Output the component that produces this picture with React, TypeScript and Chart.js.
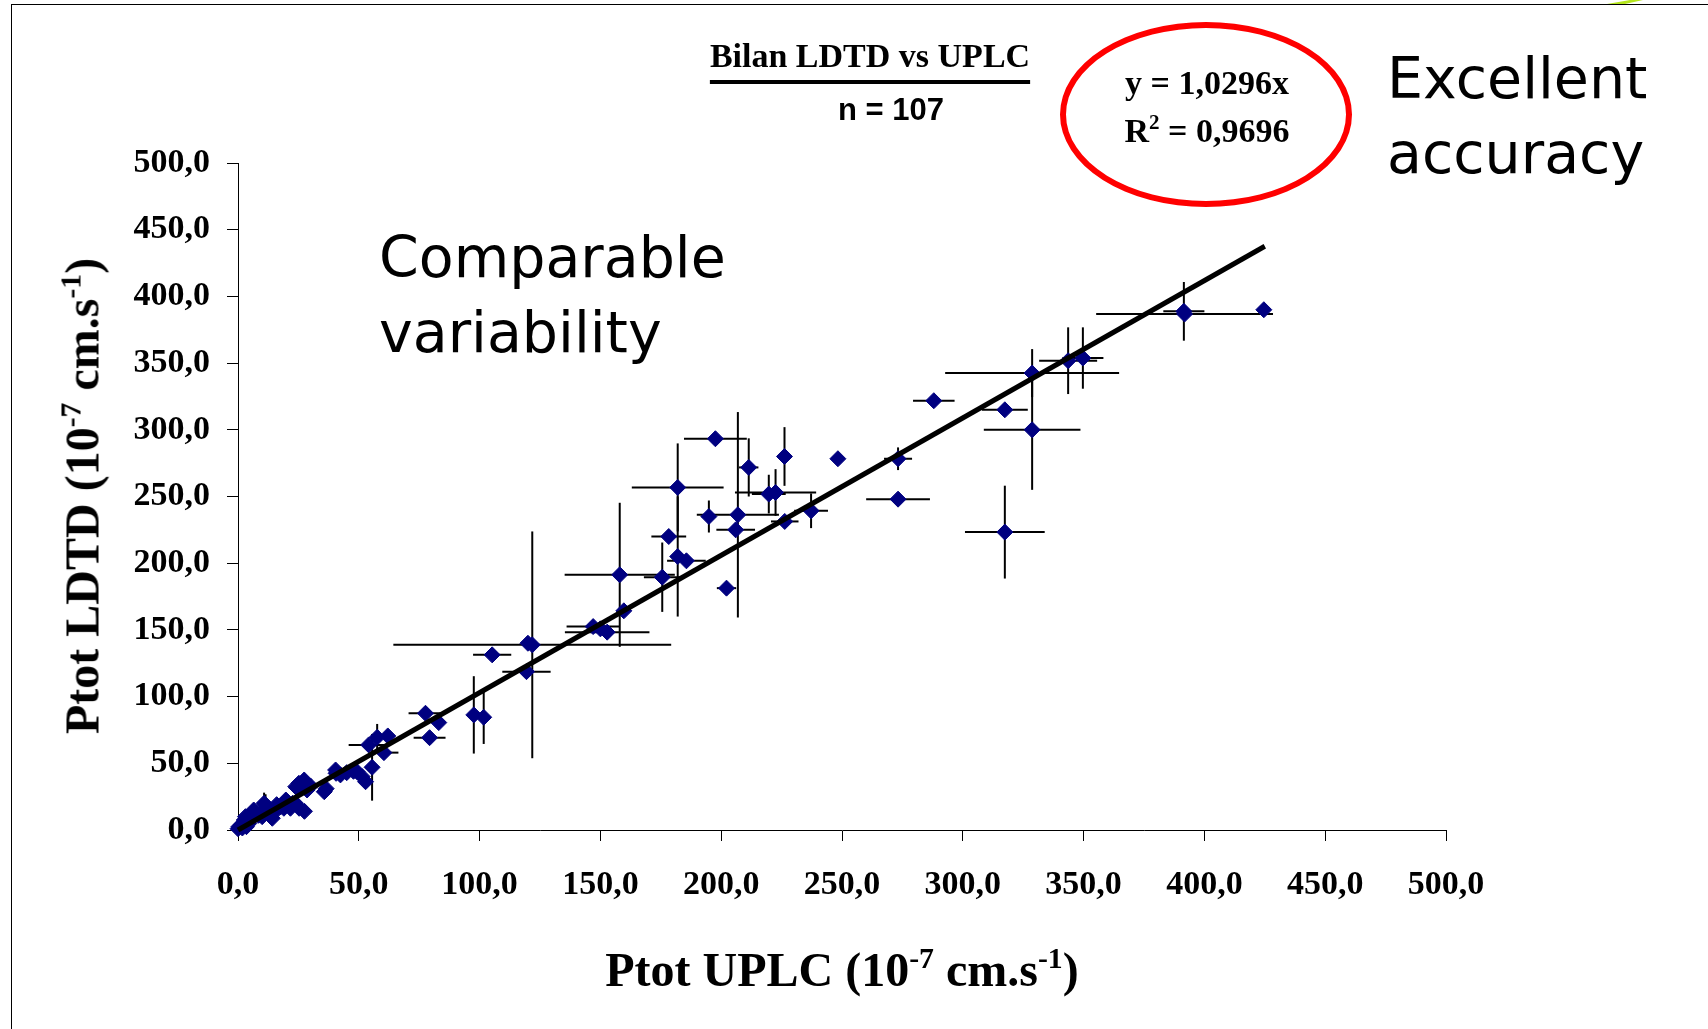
import React, { useEffect, useRef } from "react";
import { Chart, registerables } from "chart.js";

Chart.register(...registerables);

// ---- Data ----
const uplcX = [
  0.0, 0.4, 1.2, 1.8, 2.6, 3.1, 3.5, 4.5, 5.0, 6.5, 7.5, 8.5, 10.0, 10.0, 10.8, 11.4, 12.5, 13.6, 14.2, 15.5,
  16.0, 17.7, 19.0, 19.8, 20.4, 21.7, 22.6, 23.8, 23.9, 24.5, 25.2, 25.3, 26.8, 27.5, 27.4, 28.6, 30.0, 35.7, 36.5, 40.4,
  40.6, 42.4, 45.0, 47.8, 49.3, 51.4, 52.8, 54.1, 55.5, 57.6, 60.4, 62.0, 77.6, 79.3, 83.1, 97.6, 101.7, 105.2, 119.4, 120.0,
  121.8, 147.0, 150.0, 152.8, 158.0, 159.7, 175.6, 178.3, 182.0, 182.0, 185.6, 194.9, 197.6, 202.2, 206.0, 206.9, 211.4, 219.7, 222.5, 226.2,
  226.3, 237.2, 248.3, 273.2, 273.2, 288.0, 317.4, 317.4, 328.7, 328.7, 343.6, 349.7, 391.5, 391.8, 424.6,
];
const ldtdY = [
  1.0, 2.5, 3.7, 1.5, 7.5, 10.0, 2.5, 5.0, 8.0, 15.0, 13.0, 11.0, 10.0, 13.7, 20.0, 18.8, 15.0, 12.5, 8.8, 14.0,
  19.0, 17.5, 16.3, 22.5, 21.2, 16.3, 20.0, 20.0, 32.5, 31.3, 35.0, 16.3, 35.5, 14.0, 37.5, 30.0, 33.0, 28.7, 31.0, 45.0,
  42.5, 41.3, 43.0, 44.0, 43.7, 40.0, 36.2, 63.8, 47.0, 69.5, 58.0, 70.5, 87.5, 69.2, 80.5, 86.3, 84.5, 131.3, 118.7, 140.0,
  138.8, 152.5, 150.8, 148.3, 191.3, 164.3, 189.5, 220.0, 256.8, 205.0, 201.8, 235.0, 293.3, 181.3, 225.0, 236.3, 271.8, 251.8, 253.0, 280.0,
  231.3, 239.3, 278.3, 278.3, 248.0, 321.8, 315.0, 223.3, 342.5, 300.0, 351.8, 353.8, 388.8, 386.8, 390.0,
];
const uplcErr = [
  0, 0, 0, 0, 0, 0, 0, 0, 0, 0, 0, 0, 0, 0, 0, 0, 0, 0, 0, 0,
  0, 0, 0, 0, 0, 0, 0, 0, 0, 0, 0, 0, 0, 0, 0, 0, 0, 0, 0, 0,
  0, 0, 0, 0, 0, 0, 0, 8.3, 0, 0, 6, 0, 7, 6.6, 0, 0, 0, 7.9, 10, 0,
  57.5, 11, 0, 17.5, 22.8, 0, 7.6, 7.2, 19, 0, 8, 3, 13, 4, 8, 17, 4, 7, 16.8, 0,
  5.7, 7, 0, 5.8, 13.2, 8.6, 9.5, 16.5, 36, 20, 12, 8.5, 8.5, 36.6, 0,
];
const ldtdErr = [
  0, 0, 0, 0, 0, 0, 0, 0, 0, 0, 0, 0, 0, 0, 8, 8, 0, 0, 0, 0,
  0, 0, 0, 0, 0, 0, 0, 0, 0, 0, 0, 0, 0, 0, 0, 0, 0, 0, 0, 0,
  0, 0, 0, 0, 0, 0, 0, 0, 25, 10, 0, 0, 0, 0, 0, 29, 20, 0, 0, 0,
  85, 0, 5, 0, 54, 0, 26, 0, 33, 45, 0, 12, 0, 5, 0, 77, 21.8, 14.5, 17.5, 22,
  0, 13, 0, 8.5, 0, 0, 0, 34.8, 18, 45, 25, 23, 22, 0, 5,
];
// Linear trend line (y = 1,0296x), end points
const trendX = [0, 425];
const trendY = [0, 437.6];
const axisMin = 0;
const axisMax = 500;
const axisStep = 50;

const SERIF = "'Liberation Serif', 'Times New Roman', serif";
const SANS = "'Liberation Sans', Arial, sans-serif";
const DEJAVU = "'DejaVu Sans', Verdana, sans-serif";

const fmt = (v: number) => Number(v).toFixed(1).replace(".", ",");

const errorBarPlugin = {
  id: "errorBars",
  beforeDatasetsDraw(chart: any) {
    const { ctx } = chart;
    const xs = chart.scales.x;
    const ys = chart.scales.y;
    ctx.save();
    ctx.strokeStyle = "#000";
    ctx.lineWidth = 2;
    ctx.lineCap = "butt";
    for (let i = 0; i < uplcX.length; i++) {
      const xv = uplcX[i];
      const yv = ldtdY[i];
      const ex = uplcErr[i];
      const ey = ldtdErr[i];
      const px = xs.getPixelForValue(xv);
      const py = ys.getPixelForValue(yv);
      if (ex > 0) {
        ctx.beginPath();
        ctx.moveTo(xs.getPixelForValue(xv - ex), py);
        ctx.lineTo(xs.getPixelForValue(xv + ex), py);
        ctx.stroke();
      }
      if (ey > 0) {
        ctx.beginPath();
        ctx.moveTo(px, ys.getPixelForValue(yv - ey));
        ctx.lineTo(px, ys.getPixelForValue(yv + ey));
        ctx.stroke();
      }
    }
    ctx.restore();
  },
};

export default function App() {
  const ref = useRef<HTMLCanvasElement>(null);

  useEffect(() => {
    document.body.style.margin = "0";
    const canvas = ref.current;
    if (!canvas) return;
    const points = uplcX.map((x, i) => ({ x, y: ldtdY[i] }));
    const trend = trendX.map((x, i) => ({ x, y: trendY[i] }));
    const tickFont = { family: SERIF, size: 34, weight: "bold" as const };
    const chart = new Chart(canvas, {
      type: "scatter",
      data: {
        datasets: [
          {
            label: "Trend",
            data: trend,
            showLine: true,
            borderColor: "#000",
            borderWidth: 5,
            pointRadius: 0,
            order: 0,
            clip: false as any,
          } as any,
          {
            label: "Ptot",
            data: points,
            pointStyle: "rectRot",
            pointRadius: 8,
            backgroundColor: "#000080",
            borderColor: "#000080",
            borderWidth: 1,
            order: 1,
            clip: false as any,
          } as any,
        ],
      },
      options: {
        responsive: false,
        devicePixelRatio: 1,
        animation: false,
        events: [],
        layout: { padding: { left: 0, top: 163, right: 262, bottom: 0 } },
        plugins: {
          legend: { display: false },
          tooltip: { enabled: false },
          title: { display: false },
        },
        scales: {
          x: {
            type: "linear",
            min: axisMin,
            max: axisMax,
            ticks: {
              stepSize: axisStep,
              callback: (v: any) => fmt(v),
              font: tickFont,
              color: "#000",
              padding: 24,
              maxRotation: 0,
              autoSkip: false,
            },
            grid: { drawOnChartArea: false, drawTicks: true, tickLength: 11, color: "#000", tickWidth: 1 },
            border: { display: true, color: "#000", width: 1 },
            afterFit: (s: any) => {
              s.height = 199;
            },
          },
          y: {
            type: "linear",
            min: axisMin,
            max: axisMax,
            ticks: {
              stepSize: axisStep,
              callback: (v: any) => fmt(v),
              font: tickFont,
              color: "#000",
              padding: 17,
              autoSkip: false,
            },
            grid: { drawOnChartArea: false, drawTicks: true, tickLength: 11, color: "#000", tickWidth: 1 },
            border: { display: true, color: "#000", width: 1 },
            afterFit: (s: any) => {
              s.width = 238;
            },
          },
        },
      } as any,
      plugins: [errorBarPlugin],
    });
    return () => chart.destroy();
  }, []);

  const supStyle: React.CSSProperties = { fontSize: "0.62em", verticalAlign: "0.6em", lineHeight: 0 };

  return (
    <div
      style={{
        position: "fixed",
        left: 0,
        top: 0,
        width: 1708,
        height: 1029,
        background: "#fff",
        overflow: "hidden",
      }}
    >
      <canvas
        ref={ref}
        width={1708}
        height={1029}
        style={{ position: "absolute", left: 0, top: 0, width: 1708, height: 1029 }}
      />
      {/* slide frame */}
      <div style={{ position: "absolute", left: 11, top: 4, width: 1708, height: 1, background: "#000" }} />
      <div style={{ position: "absolute", left: 11, top: 4, width: 1, height: 1029, background: "#000" }} />
      <svg style={{ position: "absolute", left: 1600, top: 0 }} width={60} height={8}>
        <polygon points="7,4 25,4 43,0 30,0" fill="#b5e61d" />
      </svg>

      {/* Title */}
      <div
        style={{
          position: "absolute",
          left: 870,
          top: 56,
          transform: "translate(-50%, -50%)",
          fontFamily: SERIF,
          fontWeight: "bold",
          fontSize: 34,
          whiteSpace: "nowrap",
          textDecoration: "underline",
          textDecorationThickness: "4px",
          textUnderlineOffset: "13px",
          color: "#000",
        }}
      >
        Bilan LDTD vs UPLC
      </div>
      <div
        style={{
          position: "absolute",
          left: 891,
          top: 110,
          transform: "translate(-50%, -50%)",
          fontFamily: SANS,
          fontWeight: "bold",
          fontSize: 31,
          whiteSpace: "nowrap",
          color: "#000",
        }}
      >
        n = 107
      </div>

      {/* Red ellipse with equation */}
      <div
        style={{
          position: "absolute",
          left: 1060,
          top: 22,
          width: 292,
          height: 185,
          boxSizing: "border-box",
          border: "6px solid #ff0000",
          borderRadius: "50%",
        }}
      />
      <div
        style={{
          position: "absolute",
          left: 1207,
          top: 83,
          transform: "translate(-50%, -50%)",
          fontFamily: SERIF,
          fontWeight: "bold",
          fontSize: 34,
          whiteSpace: "nowrap",
          color: "#000",
        }}
      >
        y = 1,0296x
      </div>
      <div
        style={{
          position: "absolute",
          left: 1207,
          top: 131,
          transform: "translate(-50%, -50%)",
          fontFamily: SERIF,
          fontWeight: "bold",
          fontSize: 34,
          whiteSpace: "nowrap",
          color: "#000",
        }}
      >
        R<span style={supStyle}>2</span> = 0,9696
      </div>

      {/* Annotations */}
      <div
        style={{
          position: "absolute",
          left: 1387,
          top: 41,
          fontFamily: DEJAVU,
          fontSize: 57,
          lineHeight: "75px",
          color: "#000",
          whiteSpace: "nowrap",
        }}
      >
        Excellent
        <br />
        accuracy
      </div>
      <div
        style={{
          position: "absolute",
          left: 379,
          top: 220,
          fontFamily: DEJAVU,
          fontSize: 57,
          lineHeight: "75px",
          color: "#000",
          whiteSpace: "nowrap",
        }}
      >
        Comparable
        <br />
        variability
      </div>

      {/* Axis titles */}
      <div
        style={{
          position: "absolute",
          left: 82,
          top: 496,
          transform: "translate(-50%, -50%) rotate(-90deg)",
          fontFamily: SERIF,
          fontWeight: "bold",
          fontSize: 48,
          whiteSpace: "nowrap",
          color: "#000",
        }}
      >
        Ptot LDTD (10<span style={supStyle}>-7</span> cm.s<span style={supStyle}>-1</span>)
      </div>
      <div
        style={{
          position: "absolute",
          left: 842,
          top: 969,
          transform: "translate(-50%, -50%)",
          fontFamily: SERIF,
          fontWeight: "bold",
          fontSize: 48,
          whiteSpace: "nowrap",
          color: "#000",
        }}
      >
        Ptot UPLC (10<span style={supStyle}>-7</span> cm.s<span style={supStyle}>-1</span>)
      </div>
    </div>
  );
}
